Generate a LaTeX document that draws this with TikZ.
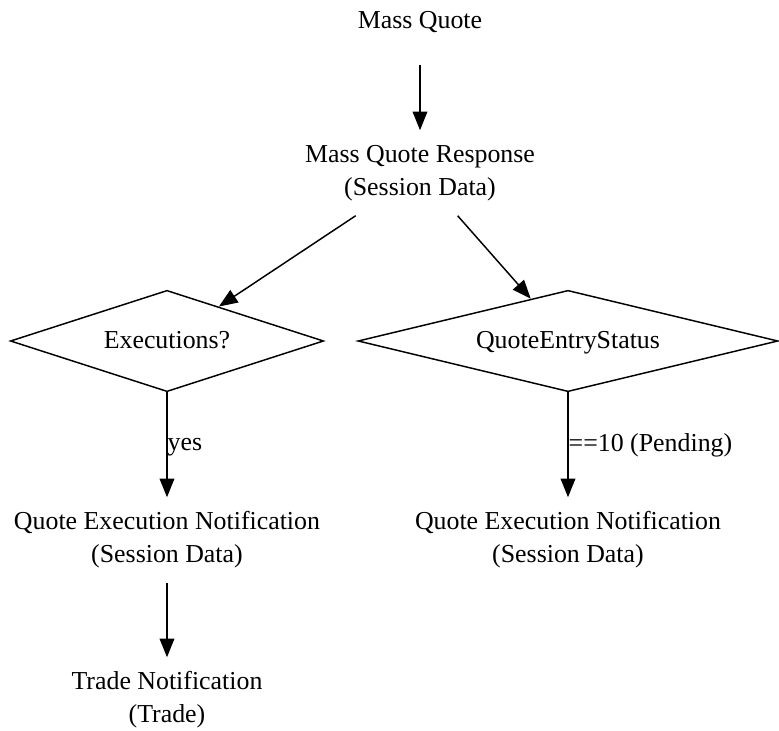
\documentclass[tikz,border=0pt]{standalone}
\usepackage{fontspec}
\setmainfont{Liberation Serif}
\usetikzlibrary{arrows.meta, positioning, shapes.geometric}
\tikzset{
  every picture/.style={font=\fontsize{19.4}{24.75}\selectfont, line width=1.1pt},
  msg/.style={align=center, inner sep=0pt, minimum height=63pt},
  decision/.style={draw, diamond, inner sep=0pt, text depth=0.3ex, minimum height=76pt, aspect=3.1, minimum width=235pt},
  arrow/.style={-{Triangle[length=14pt, width=11pt]}, draw=black},
  note/.style={right, inner sep=0pt},
}

\begin{document}
\begin{tikzpicture}[x=0.75pt, y=-0.75pt]
  \useasboundingbox (0,0) rectangle (779,731);
  \node[msg] (mq) at (420, 22) {Mass Quote};
  \node[msg] (mqr) at (420, 173) {Mass Quote Response\\(Session Data)};
  \node[decision] (exec) at (167, 341) {Executions?};
  \node[decision, aspect=4.15, minimum width=315pt] (qes) at (568, 341) {QuoteEntryStatus};
  \node[msg] (qenl) at (167, 540) {Quote Execution Notification\\(Session Data)};
  \node[msg] (qenr) at (568, 540) {Quote Execution Notification\\(Session Data)};
  \node[msg] (trade) at (167, 700) {Trade Notification\\(Trade)};

  \draw[arrow] (mq) -- (mqr);
  \draw[arrow] (mqr) -- (exec);
  \draw[arrow] (mqr) -- (qes);
  \draw[arrow] (exec) -- node[note, yshift=-2pt] (yes) {yes} (qenl);
  \draw[arrow] (qes) -- node[note] (pend) {==10 (Pending)} (qenr);
  \draw[arrow] (qenl) -- (trade);
\end{tikzpicture}
\end{document}
